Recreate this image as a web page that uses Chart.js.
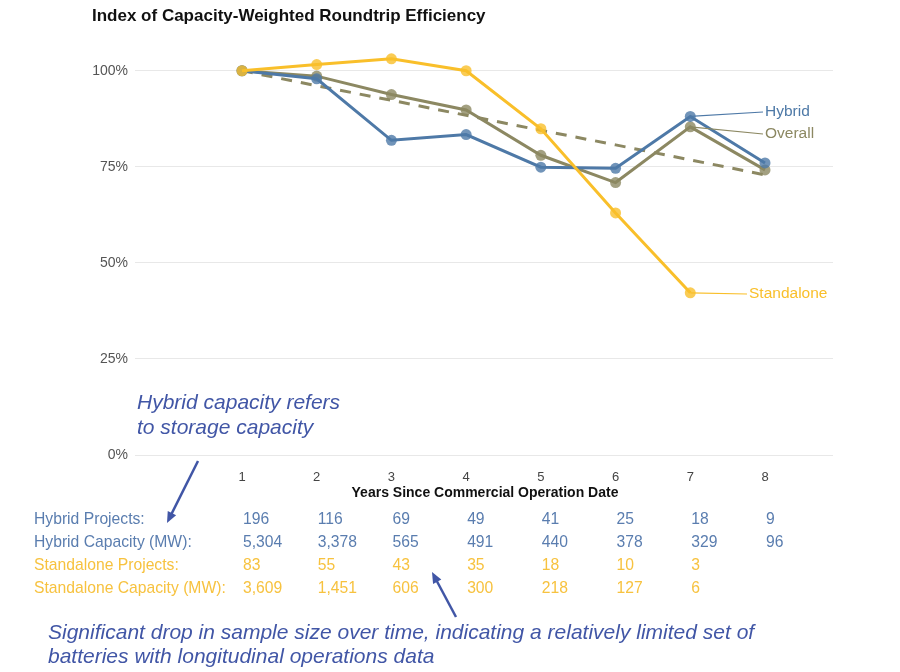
<!DOCTYPE html>
<html>
<head>
<meta charset="utf-8">
<script src="https://cdn.jsdelivr.net/npm/chart.js@4.4.1/dist/chart.umd.min.js"></script>
<style>
  html, body { margin: 0; padding: 0; background: #fff; }
  #wrap { width: 900px; height: 672px; }
</style>
</head>
<body>
<div id="wrap"><canvas id="effChart" width="900" height="672"></canvas></div>
<script>
const years = [1, 2, 3, 4, 5, 6, 7, 8];
const yTicks = [0, 25, 50, 75, 100];

// index values, % of year-1 efficiency
const hybrid = [100, 97.9, 81.9, 83.4, 74.9, 74.6, 88.1, 76.0];
const overall = [100, 98.6, 93.8, 89.8, 78.0, 70.9, 85.4, 74.2];
const overallTrend = [100, 96.1, 92.3, 88.4, 84.5, 80.7, 76.8, 72.9];
const standalone = [100, 101.6, 103.1, 100, 84.9, 63.0, 42.2, null];

// sample size table under the chart
const hybridProjects = ['196', '116', '69', '49', '41', '25', '18', '9'];
const hybridCapacity = ['5,304', '3,378', '565', '491', '440', '378', '329', '96'];
const standaloneProjects = ['83', '55', '43', '35', '18', '10', '3', ''];
const standaloneCapacity = ['3,609', '1,451', '606', '300', '218', '127', '6', ''];

const BLUE = '#4e79a7';
const OLIVE = '#8c8862';
const GOLD = '#f9bf2a';
const NOTE = '#4156a6';
const FONT = '"Liberation Sans", Arial, Helvetica, sans-serif';

function pts(arr) {
    return years.map((x, i) => ({ x: x, y: arr[i] }));
}

function alpha(hex, a) {
    const n = parseInt(hex.slice(1), 16);
    return `rgba(${n >> 16}, ${(n >> 8) & 255}, ${n & 255}, ${a})`;
}

function arrow(ctx, x1, y1, x2, y2) {
    const ang = Math.atan2(y2 - y1, x2 - x1);
    const head = 12;
    ctx.save();
    ctx.strokeStyle = NOTE;
    ctx.fillStyle = NOTE;
    ctx.lineWidth = 2.5;
    ctx.beginPath();
    ctx.moveTo(x1, y1);
    ctx.lineTo(x2 - Math.cos(ang) * head * 0.8, y2 - Math.sin(ang) * head * 0.8);
    ctx.stroke();
    ctx.beginPath();
    ctx.moveTo(x2, y2);
    ctx.lineTo(x2 - head * Math.cos(ang - 0.4), y2 - head * Math.sin(ang - 0.4));
    ctx.lineTo(x2 - head * Math.cos(ang + 0.4), y2 - head * Math.sin(ang + 0.4));
    ctx.closePath();
    ctx.fill();
    ctx.restore();
}

const extras = {
    id: 'extras',
    afterDraw(chart) {
        const ctx = chart.ctx;
        const xs = chart.scales.x;
        const ys = chart.scales.y;
        ctx.save();

        // title
        ctx.fillStyle = '#111';
        ctx.font = `bold 17px ${FONT}`;
        ctx.textAlign = 'left';
        ctx.textBaseline = 'middle';
        ctx.fillText('Index of Capacity-Weighted Roundtrip Efficiency', 92, 16);

        // x axis title
        ctx.font = `bold 14px ${FONT}`;
        ctx.textAlign = 'center';
        ctx.fillText('Years Since Commercial Operation Date', 485, 493);

        // end labels with leader lines
        const ends = [
            { text: 'Hybrid', data: hybrid, color: BLUE, lx: 765, ly: 112 },
            { text: 'Overall', data: overall, color: OLIVE, lx: 765, ly: 134 },
            { text: 'Standalone', data: standalone, color: GOLD, lx: 749, ly: 294 }
        ];
        ctx.font = `15.5px ${FONT}`;
        ctx.textAlign = 'left';
        ends.forEach(e => {
            const px = xs.getPixelForValue(7);
            const py = ys.getPixelForValue(e.data[6]);
            ctx.strokeStyle = e.color;
            ctx.lineWidth = 1.2;
            ctx.beginPath();
            ctx.moveTo(px, py);
            ctx.lineTo(e.lx - 2, e.ly);
            ctx.stroke();
            ctx.fillStyle = e.color;
            ctx.fillText(e.text, e.lx, e.ly);
        });

        // sample size table
        const rows = [
            { label: 'Hybrid Projects:', vals: hybridProjects, color: '#5a7daf', y: 520 },
            { label: 'Hybrid Capacity (MW):', vals: hybridCapacity, color: '#5a7daf', y: 543 },
            { label: 'Standalone Projects:', vals: standaloneProjects, color: '#f7c23f', y: 566 },
            { label: 'Standalone Capacity (MW):', vals: standaloneCapacity, color: '#f7c23f', y: 589 }
        ];
        ctx.font = `15.7px ${FONT}`;
        rows.forEach(r => {
            ctx.fillStyle = r.color;
            ctx.fillText(r.label, 34, r.y);
            r.vals.forEach((v, i) => {
                ctx.fillText(v, xs.getPixelForValue(years[i]) + 1, r.y);
            });
        });

        // annotations
        ctx.fillStyle = NOTE;
        ctx.font = `italic 21px ${FONT}`;
        ctx.fillText('Hybrid capacity refers', 137, 403);
        ctx.fillText('to storage capacity', 137, 428);
        ctx.fillText('Significant drop in sample size over time, indicating a relatively limited set of', 48, 633);
        ctx.fillText('batteries with longitudinal operations data', 48, 657);

        arrow(ctx, 198, 461, 167, 523);
        arrow(ctx, 456, 617, 432, 572);

        ctx.restore();
    }
};

const lineDs = (label, arr, color, order) => ({
    label: label,
    data: pts(arr),
    borderColor: color,
    backgroundColor: alpha(color, 0.8),
    borderWidth: 3,
    pointRadius: 5.5,
    pointBorderWidth: 0,
    pointBackgroundColor: alpha(color, 0.8),
    tension: 0,
    spanGaps: false,
    order: order
});

const trendDs = {
    label: 'Overall trend',
    data: pts(overallTrend),
    borderColor: OLIVE,
    borderWidth: 3,
    borderDash: [11, 9],
    pointRadius: 0,
    order: 4
};

const ctx = document.getElementById('effChart').getContext('2d');
const effChart = new Chart(ctx, {
    type: 'line',
    data: {
        datasets: [
            lineDs('Standalone', standalone, GOLD, 0),
            lineDs('Hybrid', hybrid, BLUE, 1),
            lineDs('Overall', overall, OLIVE, 2),
            trendDs
        ]
    },
    options: {
        responsive: false,
        animation: false,
        layout: { padding: { left: 0, right: 67, top: 40, bottom: 187 } },
        plugins: {
            legend: { display: false },
            tooltip: { enabled: false }
        },
        scales: {
            x: {
                type: 'linear',
                min: -0.432,
                max: 8.91,
                grid: { display: false, drawTicks: false },
                border: { display: false },
                afterBuildTicks: scale => { scale.ticks = years.map(v => ({ value: v })); },
                afterFit: scale => { scale.height = 30; },
                ticks: {
                    padding: 15,
                    color: '#444',
                    font: { family: FONT, size: 13 },
                    maxRotation: 0,
                    autoSkip: false
                }
            },
            y: {
                min: 0,
                max: 108,
                grid: { color: '#e8e8e8', lineWidth: 1, drawTicks: false },
                border: { display: false },
                afterBuildTicks: scale => { scale.ticks = yTicks.map(v => ({ value: v })); },
                afterFit: scale => { scale.width = 135; },
                ticks: {
                    padding: 7,
                    color: '#555',
                    font: { family: FONT, size: 14 },
                    callback: v => v + '%'
                }
            }
        }
    },
    plugins: [extras]
});
</script>
</body>
</html>
